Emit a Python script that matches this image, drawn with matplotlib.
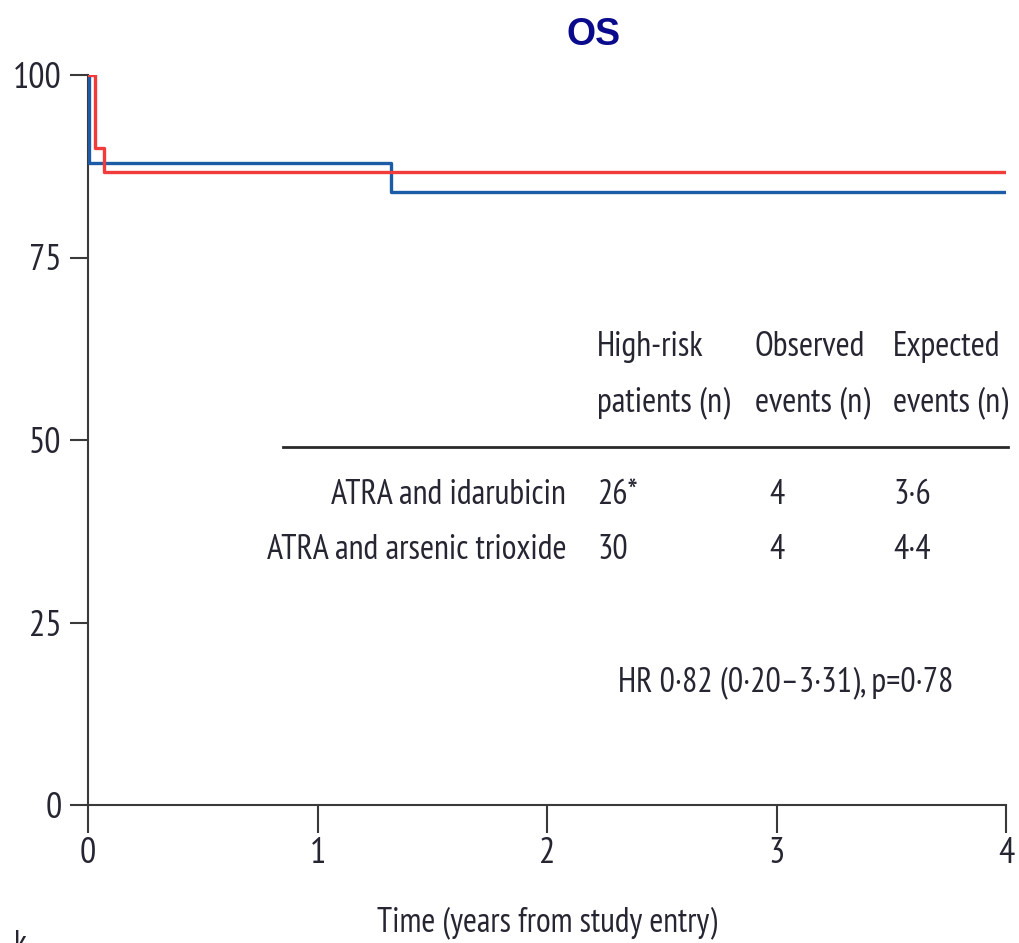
import matplotlib
matplotlib.use("Agg")
import matplotlib.pyplot as plt
from matplotlib import font_manager

# Kaplan-Meier step data (time in years, overall survival in %)
idarubicin_time = [0.0, 0.005, 1.32, 4.0]
idarubicin_surv = [100.0, 88.0, 84.0, 84.0]
arsenic_time = [0.0, 0.03, 0.07, 4.0]
arsenic_surv = [100.0, 90.0, 86.7, 86.7]

x_ticks = [0, 1, 2, 3, 4]
y_ticks = [0, 25, 50, 75, 100]

header_top = ["High-risk", "Observed", "Expected"]
header_bottom = ["patients (n)", "events (n)", "events (n)"]
arms = ["ATRA and idarubicin", "ATRA and arsenic trioxide"]
patients = ["26*", "30"]
observed = ["4", "4"]
expected = ["3·6", "4·4"]
hr_text = "HR 0·82 (0·20–3·31), p=0·78"

available = {f.name for f in font_manager.fontManager.ttflist}
narrow_fonts = [n for n in ("PT Sans Narrow", "Roboto Condensed", "Archivo Narrow") if n in available]
plt.rcParams["font.family"] = narrow_fonts + ["DejaVu Sans"]

ink = "#262633"
axis_grey = "#3a3a3a"
fig = plt.figure(figsize=(10.19, 9.43), dpi=100)
ax = fig.add_axes([88 / 1019, 1 - 805 / 943, 918 / 1019, 730 / 943])

ax.step(idarubicin_time, idarubicin_surv, where="post", color="#1c5ca6", lw=2.4, zorder=3)
ax.step(arsenic_time, arsenic_surv, where="post", color="#f23b3b", lw=2.4, zorder=3)

ax.set_xlim(0, 4)
ax.set_ylim(0, 100)
ax.set_xticks(x_ticks)
ax.set_yticks(y_ticks)
for s in ("top", "right"):
    ax.spines[s].set_visible(False)
for s in ("left", "bottom"):
    ax.spines[s].set_color(axis_grey)
    ax.spines[s].set_linewidth(1.5)
ax.tick_params(axis="y", direction="out", length=13, width=1.5, color=axis_grey,
               pad=6, labelsize=26, labelcolor=ink)
ax.tick_params(axis="x", direction="out", length=20, width=1.5, color=axis_grey,
               pad=3, labelsize=26, labelcolor=ink)
ax.set_xlabel("Time (years from study entry)", fontsize=24.3, color=ink, labelpad=26)

fig.text(594 / 1019, 1 - 35 / 943, "OS", ha="center", va="center", fontsize=27,
         fontweight="bold", color="#0a0a8c", family=["Liberation Sans", "DejaVu Sans"])

# Summary table
fs = 24.5
col_x = [2.218, 2.906, 3.508]
for cx, top, bottom in zip(col_x, header_top, header_bottom):
    ax.text(cx, 62.7, top, ha="left", va="center", fontsize=fs, color=ink)
    ax.text(cx, 55.1, bottom, ha="left", va="center", fontsize=fs, color=ink)
ax.plot([0.85, 4.01], [49.0, 49.0], color="#2a2a2a", lw=2.0, clip_on=False)
row_y = [42.4, 34.9]
for ry, arm, n, obs, exp in zip(row_y, arms, patients, observed, expected):
    ax.text(2.083, ry, arm, ha="right", va="center", fontsize=fs, color=ink)
    ax.text(col_x[0], ry, n, ha="left", va="center", fontsize=fs, color=ink)
    ax.text(2.97, ry, obs, ha="left", va="center", fontsize=fs, color=ink)
    ax.text(col_x[2], ry, exp, ha="left", va="center", fontsize=fs, color=ink)
ax.text(3.04, 16.7, hr_text, ha="center", va="center", fontsize=fs, color=ink)

# fragment of neighbouring panel text at the lower-left edge
fig.text(0.014, -0.018, "k", ha="left", va="bottom", fontsize=24, color=ink)

fig.savefig("out.png", dpi=100)
